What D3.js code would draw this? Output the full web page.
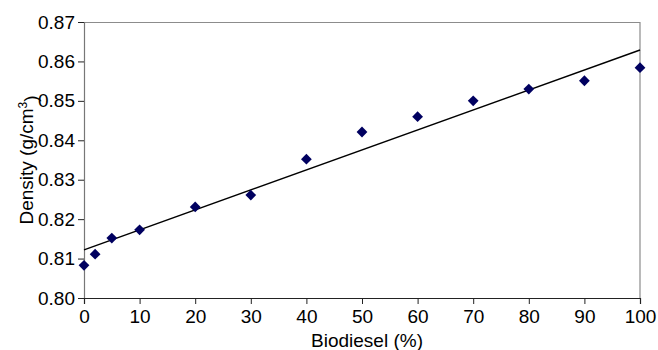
<!DOCTYPE html>
<html>
<head>
<meta charset="utf-8">
<script src="https://cdn.jsdelivr.net/npm/d3@7"></script>
<style>
  body { margin: 0; background: #fff; }
  text { font-family: "Liberation Sans", Arial, sans-serif; fill: #000; }
</style>
</head>
<body>
<script>
// data
var biodiesel = [0, 2, 5, 10, 20, 30, 40, 50, 60, 70, 80, 90, 100];
var density = [0.8083, 0.8111, 0.8152, 0.8173, 0.8231, 0.8261, 0.8352, 0.8421, 0.846, 0.850, 0.853, 0.8551, 0.8584];
var xTicks = [0, 10, 20, 30, 40, 50, 60, 70, 80, 90, 100];
var yTicks = [0.80, 0.81, 0.82, 0.83, 0.84, 0.85, 0.86, 0.87];

var margin = {top: 22, right: 18, bottom: 52, left: 84},
    width = 658 - margin.left - margin.right,
    height = 350 - margin.top - margin.bottom;

var x = d3.scaleLinear().domain([0, 100]).range([0, width]);
var y = d3.scaleLinear().domain([0.80, 0.87]).range([height, 0]);

var svg = d3.select("body").append("svg")
    .attr("width", 658)
    .attr("height", 350)
    .append("g")
    .attr("transform", "translate(" + margin.left + "," + margin.top + ")");

// plot area frame (top and right)
svg.append("path")
    .attr("d", "M0,0.5H" + width + "V" + height)
    .attr("fill", "none")
    .attr("stroke", "#8c8c8c")
    .attr("stroke-width", 1.2);

// y axis
var yAxis = svg.append("g")
    .call(d3.axisLeft(y).tickValues(yTicks).tickSize(6).tickPadding(3)
        .tickFormat(d3.format(".2f")));
yAxis.select(".domain").attr("stroke", "#777").attr("stroke-width", 1.2);
yAxis.selectAll(".tick line").attr("stroke", "#222");
yAxis.selectAll("text").style("font-size", "19px").attr("fill", "#000");

// x axis
var xAxis = svg.append("g")
    .attr("transform", "translate(0," + height + ")")
    .call(d3.axisBottom(x).tickValues(xTicks).tickSize(6).tickPadding(6));
xAxis.select(".domain").attr("stroke", "#222").attr("stroke-width", 1.2);
xAxis.selectAll(".tick line").attr("stroke", "#222");
xAxis.selectAll("text").style("font-size", "19px").attr("fill", "#000");

// linear trend line (least squares)
var mx = d3.mean(biodiesel), my = d3.mean(density);
var sxy = d3.sum(biodiesel, function(d, i) { return (d - mx) * (density[i] - my); });
var sxx = d3.sum(biodiesel, function(d) { return (d - mx) * (d - mx); });
var slope = sxy / sxx, intercept = my - slope * mx;

var line = d3.line()
    .x(function(d) { return x(d); })
    .y(function(d) { return y(intercept + slope * d); });

svg.append("path")
    .datum([0, 100])
    .attr("d", line)
    .attr("fill", "none")
    .attr("stroke", "#000")
    .attr("stroke-width", 1.4);

// diamond markers
svg.selectAll(".pt")
    .data(biodiesel)
    .enter().append("path")
    .attr("class", "pt")
    .attr("d", d3.symbol().type(d3.symbolSquare).size(58))
    .attr("transform", function(d, i) {
        return "translate(" + x(d) + "," + y(density[i]) + ") rotate(45)";
    })
    .attr("fill", "#000060");

// axis titles
svg.append("text")
    .attr("x", width / 2 + 5)
    .attr("y", height + 49)
    .attr("text-anchor", "middle")
    .style("font-size", "19px")
    .text("Biodiesel (%)");

var yt = svg.append("text")
    .attr("transform", "translate(" + (-51) + "," + (height / 2) + ") rotate(-90)")
    .attr("text-anchor", "middle")
    .style("font-size", "19px");
yt.append("tspan").text("Density (g/cm");
yt.append("tspan").attr("dy", "-0.5em").style("font-size", "12px").text("3");
yt.append("tspan").attr("dy", "0.5em").text(")");
</script>
</body>
</html>
